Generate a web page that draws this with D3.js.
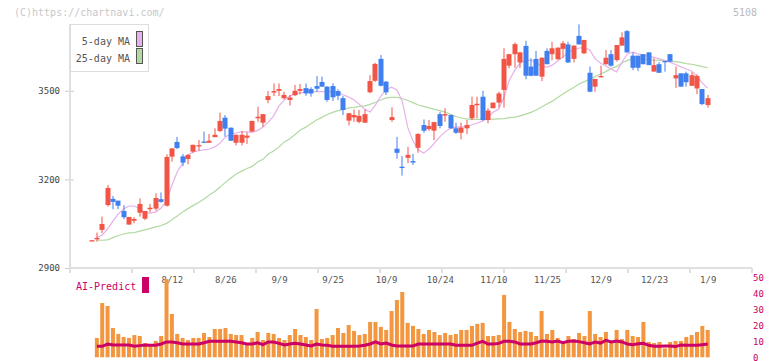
<!DOCTYPE html>
<html><head><meta charset="utf-8">
<script src="https://cdn.jsdelivr.net/npm/d3@7/dist/d3.min.js"></script>
<style>body{margin:0;background:#fff}svg{display:block}text{font-family:"DejaVu Sans Mono",monospace}</style>
</head><body><svg id="c" width="772" height="361"></svg>
<script>
const dates = ["7/18","7/22","7/23","7/24","7/25","7/28","7/29","7/30","7/31","8/1","8/4","8/5","8/6","8/7","8/8","8/12","8/13","8/14","8/15","8/18","8/19","8/20","8/21","8/22","8/25","8/26","8/27","8/28","8/29","9/1","9/2","9/3","9/4","9/5","9/8","9/9","9/10","9/11","9/12","9/16","9/17","9/18","9/19","9/22","9/24","9/25","9/26","9/29","9/30","10/1","10/2","10/3","10/6","10/7","10/8","10/9","10/10","10/14","10/15","10/16","10/17","10/20","10/21","10/22","10/23","10/24","10/27","10/28","10/29","10/30","10/31","11/4","11/5","11/6","11/7","11/10","11/11","11/12","11/13","11/14","11/17","11/18","11/19","11/20","11/21","11/25","11/26","11/27","11/28","12/1","12/2","12/3","12/4","12/5","12/8","12/9","12/10","12/11","12/12","12/15","12/16","12/17","12/18","12/19","12/22","12/23","12/24","12/25","12/26","12/29","12/30","1/5","1/6","1/7","1/8","1/9"];
const open  = [2994,2997,3029,3113,3134,3128,3093,3047,3060,3087,3067,3099,3101,3133,3111,3277,3327,3278,3269,3294,3312,3328,3324,3343,3364,3409,3375,3324,3324,3341,3362,3407,3392,3469,3494,3500,3475,3469,3485,3500,3509,3506,3516,3530,3514,3516,3499,3475,3399,3410,3395,3392,3495,3534,3608,3531,3401,3304,3243,3273,3262,3307,3384,3370,3365,3421,3416,3418,3373,3358,3373,3407,3451,3480,3401,3441,3460,3503,3585,3624,3596,3652,3582,3608,3548,3635,3624,3607,3642,3657,3608,3686,3627,3561,3514,3546,3590,3624,3604,3653,3702,3619,3619,3624,3630,3565,3590,3601,3624,3542,3559,3559,3517,3508,3506,3452];
const high  = [2994,3020,3074,3181,3144,3128,3113,3073,3072,3136,3093,3117,3153,3156,3285,3305,3344,3286,3285,3318,3333,3362,3354,3373,3426,3418,3376,3352,3364,3359,3398,3446,3421,3499,3525,3525,3497,3486,3520,3523,3525,3512,3550,3548,3516,3525,3505,3482,3424,3437,3435,3437,3553,3595,3621,3533,3444,3344,3279,3310,3286,3356,3403,3401,3395,3429,3441,3419,3392,3392,3401,3480,3480,3500,3441,3460,3497,3644,3625,3664,3632,3669,3610,3635,3613,3644,3666,3647,3669,3666,3654,3725,3673,3582,3541,3585,3638,3638,3655,3698,3706,3630,3619,3624,3630,3610,3597,3601,3624,3582,3559,3565,3563,3556,3506,3486];
const low   = [2994,2989,3018,3108,3099,3099,3065,3047,3051,3074,3062,3089,3094,3121,3108,3260,3303,3245,3251,3290,3297,3325,3324,3343,3360,3345,3330,3315,3315,3320,3362,3395,3378,3458,3482,3482,3471,3450,3482,3488,3483,3480,3497,3514,3463,3466,3469,3418,3383,3395,3390,3392,3492,3530,3515,3486,3395,3270,3213,3255,3249,3290,3358,3365,3333,3373,3395,3372,3354,3336,3354,3401,3407,3399,3390,3441,3443,3443,3576,3578,3578,3539,3549,3551,3533,3590,3603,3605,3612,3594,3596,3657,3624,3495,3497,3545,3589,3582,3599,3653,3630,3570,3567,3590,3587,3565,3561,3565,3597,3510,3514,3514,3517,3489,3452,3443];
const close = [2994,3002,3049,3171,3124,3111,3072,3073,3066,3117,3093,3104,3137,3124,3276,3305,3306,3257,3283,3317,3316,3325,3331,3351,3398,3372,3331,3351,3351,3348,3398,3412,3421,3482,3499,3506,3486,3477,3500,3506,3491,3491,3507,3514,3469,3478,3483,3435,3424,3418,3415,3421,3533,3591,3517,3495,3411,3290,3240,3283,3257,3354,3365,3381,3394,3381,3421,3373,3358,3375,3384,3452,3456,3401,3433,3460,3491,3608,3624,3658,3630,3551,3551,3551,3612,3590,3644,3646,3661,3596,3653,3657,3672,3497,3540,3550,3612,3585,3655,3681,3630,3578,3578,3590,3587,3587,3561,3597,3599,3553,3514,3529,3553,3550,3455,3475];
const ma5   = [null,3003,3012,3032,3059,3083,3100,3110,3110,3100,3086,3086,3090,3103,3127,3180,3225,3255,3283,3293,3297,3300,3303,3310,3323,3344,3354,3357,3361,3361,3359,3366,3377,3394,3415,3449,3469,3482,3491,3493,3496,3497,3497,3497,3497,3497,3496,3486,3479,3469,3454,3437,3428,3452,3482,3504,3512,3503,3465,3377,3330,3300,3289,3303,3323,3344,3361,3373,3377,3377,3379,3385,3391,3398,3410,3428,3438,3479,3537,3570,3594,3604,3604,3594,3584,3580,3587,3601,3614,3631,3638,3645,3646,3638,3608,3594,3584,3574,3564,3597,3625,3631,3625,3621,3616,3613,3608,3603,3597,3589,3581,3574,3567,3550,3526,3509];
const ma25  = [null,2994,2994,2995,3003,3010,3015,3019,3020,3025,3029,3034,3039,3044,3051,3063,3076,3090,3101,3112,3122,3134,3147,3159,3174,3190,3205,3218,3228,3237,3244,3259,3268,3286,3296,3310,3327,3338,3352,3367,3377,3389,3401,3410,3420,3427,3433,3437,3442,3444,3447,3449,3454,3461,3469,3476,3478,3478,3474,3467,3460,3452,3447,3442,3437,3433,3428,3420,3413,3408,3405,3403,3403,3403,3403,3404,3405,3406,3409,3411,3415,3421,3427,3435,3445,3455,3465,3477,3489,3501,3511,3523,3531,3540,3548,3557,3565,3576,3582,3594,3603,3608,3609,3608,3606,3604,3603,3602,3601,3599,3596,3592,3590,3586,3582,3578];
const volume = [null,12.1,33.9,32.1,18.3,14.6,12.7,12.1,13.9,13.3,8.9,7.7,10.2,13.3,48.9,27.1,14.6,12.1,10.8,12.1,12.1,15.2,12.7,17.7,17.7,18.3,14.6,13.9,13.9,8.9,12.1,15.8,10.8,15.2,14.6,12.1,10.8,13.9,17.7,13.9,12.7,10.8,30.2,11.4,12.1,13.9,18.3,15.2,20.2,16.5,13.9,14.6,22.1,22.1,19.0,17.1,28.9,35.8,40.8,21.5,19.6,17.7,14.6,17.1,15.8,13.9,15.2,13.9,14.6,17.1,17.1,19.6,20.9,21.5,13.3,13.3,13.9,39.0,22.1,17.7,15.8,16.5,15.8,13.3,28.9,14.6,17.1,12.1,10.0,13.3,11.4,15.2,13.3,28.9,14.6,12.7,15.8,10.2,17.1,11.4,17.1,13.3,12.7,22.1,9.6,8.9,9.6,5.6,9.6,10.2,10.2,12.7,13.9,15.8,19.6,17.1];
const aiPredict = [null,6.9,6.9,8.3,7.7,7.7,7.7,7.7,6.9,7.3,7.7,7.5,7.5,8.3,9.6,9.6,9.1,8.3,8.3,8.3,8.3,9.1,10,10,10,10,10,9.6,9.1,8.3,8.3,9.1,7.9,9.6,9.6,8.7,7.7,8.3,8.7,8.3,7.7,7.1,8.3,7.7,7.5,6.9,6.9,6.9,6.9,6.9,7.1,7.5,8.3,9.6,8.3,8.9,7.7,7.1,7.1,7.1,7.1,8.3,8.3,8.3,8.3,8.3,8.3,8.3,7.5,7.5,7.5,7.5,8.9,10,8.3,8.3,8.7,10,10,9.6,8.3,8.3,8.3,9.1,10.2,10,9.6,10.2,9.1,10,10.2,9.8,9.1,8.3,9.6,8.9,10.6,9.6,10.2,9.6,8.3,7.9,8.5,8.7,7.5,6.9,6.9,7.1,7.1,6.7,7.7,7.5,7.5,7.5,7.9,8.3];
const priceTicks = [2900,3200,3500];
const volTicks = [0,10,20,30,40,50];
const tickLabels = ["8/12","8/26","9/9","9/25","10/9","10/24","11/10","11/25","12/9","12/23","1/9"];
const legendLabels = ["5-day MA","25-day MA"];

const svg = d3.select("#c");
const C = {up:"#f25545", down:"#3f7ff0", ma5:"#e6b0ea", ma25:"#b2d9a2", vol:"#f2963f", ai:"#cc0066", axis:"#e0e0e0", txt:"#555"};
const L = 70, R = 752;
const x = d3.scaleLinear().domain([0, dates.length-1]).range([91.5, 707.7]);
const y = d3.scaleLinear().domain([2900, 3500]).range([268, 90.8]);
const yv = d3.scaleLinear().domain([0, 50]).range([357.3, 277.3]);
const grid = d3.scaleLinear().domain([0, 11]).range([L, R]);

// header texts
svg.append("text").attr("x",14).attr("y",16).attr("font-size",10).attr("fill","#c8c8c8").text("(C)https://chartnavi.com/");
svg.append("text").attr("x",757).attr("y",16).attr("font-size",10).attr("fill","#bbb").attr("text-anchor","end").text("5108");

// price axis (left)
const ya = d3.axisLeft(y).tickValues(priceTicks).tickSize(0).tickPadding(10).tickFormat(d3.format("d"));
const gY = svg.append("g").attr("transform",`translate(${L},0)`).call(ya);
gY.select(".domain").remove();
gY.selectAll("text").attr("font-size",9).attr("fill","#444").attr("font-family","DejaVu Sans Mono");
svg.append("line").attr("x1",L).attr("x2",L).attr("y1",24).attr("y2",268).attr("stroke",C.axis).attr("stroke-width",2);
gY.selectAll(".tick").append("line").attr("x1",-5).attr("x2",4).attr("stroke","#ccc");

// bottom axis
svg.append("line").attr("x1",L).attr("x2",R).attr("y1",268).attr("y2",268).attr("stroke",C.axis).attr("stroke-width",2);
svg.append("g").selectAll("line").data(d3.range(0,12)).join("line")
  .attr("x1",d=>grid(d)).attr("x2",d=>grid(d)).attr("y1",268).attr("y2",273).attr("stroke",C.axis).attr("stroke-width",2);

const xa = d3.axisBottom(x).tickValues(dates.map((d,i)=>i).filter(i=>tickLabels.includes(dates[i]))).tickSize(0).tickPadding(0).tickFormat(i=>dates[i]);
const gX = svg.append("g").attr("transform","translate(0,278)").call(xa);
gX.select(".domain").remove();
gX.selectAll("text").attr("font-size",9).attr("fill",C.txt).attr("font-family","DejaVu Sans Mono").attr("dy","0.6em");

// volume axis (right)
const va = d3.axisRight(yv).tickValues(volTicks).tickSize(0).tickPadding(1);
const gV = svg.append("g").attr("transform",`translate(${R},0)`).call(va);
gV.select(".domain").remove();
gV.selectAll("text").attr("font-size",9).attr("fill",C.ai).attr("font-family","DejaVu Sans Mono").attr("dy","0.3em");

// volume bars
const idx = d3.range(dates.length);
svg.append("g").selectAll("rect").data(idx.filter(i=>volume[i]!=null)).join("rect")
  .attr("x",i=>x(i)-2).attr("width",4).attr("y",i=>yv(volume[i])).attr("height",i=>yv(0)-yv(volume[i])).attr("fill",C.vol);
svg.append("path").datum(idx.filter(i=>aiPredict[i]!=null))
  .attr("d",d3.line().x(i=>x(i)).y(i=>yv(aiPredict[i])))
  .attr("fill","none").attr("stroke",C.ai).attr("stroke-width",3);

// moving averages
[[ma25,C.ma25],[ma5,C.ma5]].forEach(([arr,col])=>{
  svg.append("path").datum(idx.filter(i=>arr[i]!=null))
    .attr("d",d3.line().x(i=>x(i)).y(i=>y(arr[i])))
    .attr("fill","none").attr("stroke",col).attr("stroke-width",1.2);
});

// candles
const g = svg.append("g");
idx.forEach(i=>{
  const col = close[i] >= open[i] ? C.up : C.down;
  const cx = Math.round(x(i));
  g.append("rect").attr("x",cx-0.5).attr("width",1).attr("y",y(high[i])).attr("height",Math.max(1,y(low[i])-y(high[i]))).attr("fill",col);
  const top = y(Math.max(open[i],close[i])), bot = y(Math.min(open[i],close[i]));
  g.append("rect").attr("x",cx-2.5).attr("width",5).attr("y",top).attr("height",Math.max(1.3,bot-top)).attr("fill",col);
});

// legend
const lg = svg.append("g");
lg.append("rect").attr("x",70.5).attr("y",24.5).attr("width",78).attr("height",47).attr("fill","#fff").attr("stroke","#ddd");
legendLabels.forEach((t,k)=>{
  lg.append("text").attr("x",130).attr("y",45+k*17).attr("text-anchor","end").attr("font-size",10).attr("fill",C.txt).text(t);
  lg.append("rect").attr("x",136.5).attr("y",31.5+k*17).attr("width",6).attr("height",15).attr("fill",[C.ma5,C.ma25][k]).attr("stroke","#555");
});

// AI-Predict legend
svg.append("text").attr("x",76).attr("y",290).attr("font-size",10).attr("fill",C.ai).text("AI-Predict");
svg.append("rect").attr("x",142).attr("y",277).attr("width",7).attr("height",16).attr("fill",C.ai);
</script></body></html>
